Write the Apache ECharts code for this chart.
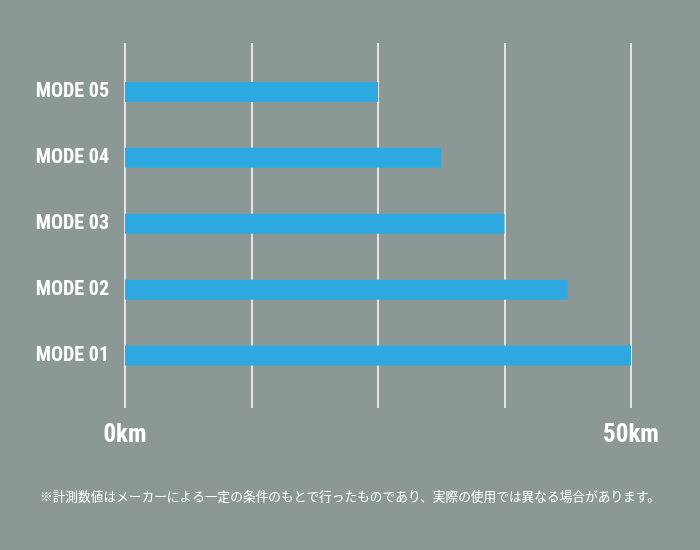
<!DOCTYPE html>
<html><head><meta charset="utf-8">
<script src="https://cdn.jsdelivr.net/npm/echarts@6/dist/echarts.min.js"></script>
<style>html,body{margin:0;padding:0;background:#8c9896;}#c{width:700px;height:550px;}</style>
</head><body><div id="c"></div>
<script>
var categories = ['MODE 01','MODE 02','MODE 03','MODE 04','MODE 05'];
var values = [50, 43.75, 37.5, 31.25, 25];
var axisMin = 0, axisMax = 50, axisInterval = 12.5;
var tickLabels = {0:'0km', 50:'50km'};
var note = '※計測数値はメーカーによる一定の条件のもとで行ったものであり、実際の使用では異なる場合があります。';
var condensed = 'Roboto,"DejaVu Sans",sans-serif';
var chart = echarts.init(document.getElementById('c'));
chart.setOption({
  backgroundColor:'#8c9896',
  animation:false,
  graphic:[{type:'text',left:40,top:490,style:{text:note,fill:'#ffffff',font:'12.7px "Noto Sans CJK JP"'}}],
  grid:[
    {left:125,right:69,top:43,bottom:142},
    {left:125,right:69,top:59,bottom:161.5}
  ],
  xAxis:[
    {gridIndex:0,type:'value',min:axisMin,max:axisMax,interval:axisInterval,
     axisLine:{show:false},axisTick:{show:false},
     splitLine:{show:true,lineStyle:{color:'#ffffff',width:1.5}},
     axisLabel:{margin:15,color:'#ffffff',fontFamily:condensed,fontWeight:'bold condensed',fontSize:25,
       formatter:function(v){return tickLabels[v]||'';}}},
    {gridIndex:1,type:'value',min:axisMin,max:axisMax,show:false}
  ],
  yAxis:[
    {gridIndex:0,type:'category',data:categories,show:false},
    {gridIndex:1,type:'category',data:categories,
     axisLine:{show:false},axisTick:{show:false},splitLine:{show:false},
     axisLabel:{margin:16,color:'#ffffff',fontFamily:condensed,fontWeight:'bold condensed',fontSize:20,padding:[7,0,0,0]}}
  ],
  series:[{type:'bar',xAxisIndex:1,yAxisIndex:1,data:values,barWidth:20,
    itemStyle:{color:'#2ea8e1'}}]
});
</script></body></html>
